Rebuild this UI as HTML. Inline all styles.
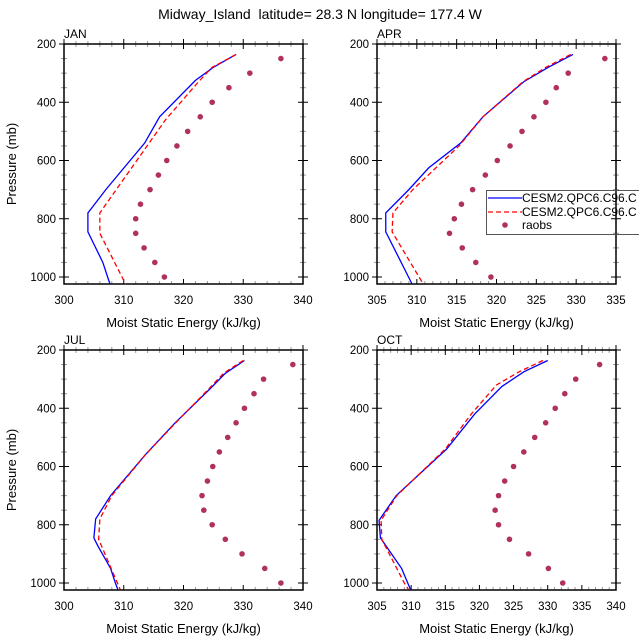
<!DOCTYPE html>
<html><head><meta charset="utf-8"><style>
html,body{margin:0;padding:0;background:#fff;}
svg{display:block;font-family:"Liberation Sans",sans-serif;}
</style></head><body>
<svg id="c" width="639" height="639" viewBox="0 0 639 639">
<text x="320" y="19" text-anchor="middle" font-size="14">Midway_Island&#160; latitude= 28.3 N longitude= 177.4 W</text>
</svg>
<script>
const levels=[250,300,350,400,450,500,550,600,650,700,750,800,850,900,950,1000];
const janObs=[336.3,331.1,327.6,324.8,322.8,320.7,318.9,317.2,315.8,314.4,312.8,312.0,312.0,313.4,315.2,316.8];
const aprObs=[333.6,329.0,327.5,326.2,324.7,323.2,321.7,320.1,318.6,317.0,315.6,314.7,314.1,315.7,317.4,319.3];
const julObs=[338.3,333.4,331.8,330.2,328.8,327.4,326.0,324.9,324.0,323.1,323.4,324.8,327.0,329.8,333.6,336.3];
const octObs=[337.6,334.1,332.5,331.1,329.7,328.1,326.5,325.0,323.7,322.8,322.3,322.8,324.4,327.2,330.1,332.2];
const janBlueP=[236,280,325,450,540,700,780,845,950,1000,1024];
const janBlue=[328.8,325,322,316,313.5,307,304,304,306.5,307.3,307.7];
const janRedP=[236,280,330,460,780,850,1024];
const janRed=[328.8,324.8,322.5,317,306,306,310.3];
const aprBlueP=[236,280,330,450,540,625,700,780,845,1024];
const aprBlue=[329.6,326.5,323.4,318.3,315.5,311.5,309,306.1,306.1,309.4];
const aprRedP=[236,280,330,450,550,700,780,845,1024];
const aprRed=[329.3,326.2,323.3,318.3,315.3,309.5,307,306.9,310.8];
const julBlueP=[236,280,330,450,560,700,780,845,870,950,1000,1022];
const julBlue=[330.2,327,324.6,318.6,313.6,307.8,305.3,305,305.6,307.8,308.6,309];
const julRedP=[236,280,330,450,560,700,780,850,1022];
const julRed=[330,326.7,324.4,318.7,313.6,308,306,305.8,309.4];
const octBlueP=[236,275,325,420,540,700,785,845,950,1022];
const octBlue=[330,326.5,323.3,319.3,315.2,307.8,305.3,305.5,308.6,309.9];
const octRedP=[236,275,320,420,540,700,785,850,1000,1022];
const octRed=[329.3,325.8,322.5,318.8,315,307.9,305.6,305.7,309,309.6];
const yTicks=[200,400,600,800,1000];

const svg=document.getElementById('c');
const NS='http://www.w3.org/2000/svg';
function mk(t,a,p){const e=document.createElementNS(NS,t);for(const k in a)e.setAttribute(k,a[k]);(p||svg).appendChild(e);return e;}

const panels=[
 {name:'jan',label:'JAN',L:64,T:44,xmin:300,xmax:340,maj:10,min:2,obs:janObs,bp:janBlueP,b:janBlue,rp:janRedP,r:janRed,ylab:true},
 {name:'apr',label:'APR',L:377,T:44,xmin:305,xmax:335,maj:5,min:1,obs:aprObs,bp:aprBlueP,b:aprBlue,rp:aprRedP,r:aprRed,ylab:false},
 {name:'jul',label:'JUL',L:64,T:350,xmin:300,xmax:340,maj:10,min:2,obs:julObs,bp:julBlueP,b:julBlue,rp:julRedP,r:julRed,ylab:true},
 {name:'oct',label:'OCT',L:377,T:350,xmin:305,xmax:340,maj:5,min:1,obs:octObs,bp:octBlueP,b:octBlue,rp:octRedP,r:octRed,ylab:false}
];
const W=239,H=240;
panels.forEach(p=>{
 const g=mk('g',{});
 
 
 const x=v=>p.L+(v-p.xmin)/(p.xmax-p.xmin)*W;
 const y=v=>p.T+(v-200)/800*233;
 const B=p.T+H;
 for(let v=p.xmin;v<=p.xmax+1e-6;v+=p.min){const X=x(v);const maj=Math.abs(v%p.maj)<1e-6;
   const len=maj?5:3;
   mk('line',{x1:X,x2:X,y1:B-len,y2:B,stroke:maj?'#000':'#999','stroke-width':1},g);
   mk('line',{x1:X,x2:X,y1:p.T-len,y2:p.T+len,stroke:maj?'#000':'#999','stroke-width':1},g);
   if(maj){const t=mk('text',{x:X,y:B+20,'text-anchor':'middle','font-size':11.5},g);t.textContent=v;
     }
 }
 for(let v=200;v<=1020;v+=50){const Y=y(v);const maj=v%200===0;const len=maj?5:3;const c=maj?'#000':'#999';
   mk('line',{x1:p.L-len,x2:p.L+len,y1:Y,y2:Y,stroke:c},g);
   mk('line',{x1:p.L+W-len,x2:p.L+W+len,y1:Y,y2:Y,stroke:c},g);}
 yTicks.forEach(v=>{const t=mk('text',{x:p.L-8,y:y(v)+4,'text-anchor':'end','font-size':11.5},g);t.textContent=v;
   });
 mk('rect',{x:p.L,y:p.T,width:W,height:H,fill:'none',stroke:'#000','stroke-width':1.5},g);
 const lb=mk('text',{x:p.L,y:p.T-6,'font-size':12},g);lb.textContent=p.label;
 
 const xl=mk('text',{x:p.L+W/2,y:B+43,'text-anchor':'middle','font-size':13},g);xl.textContent='Moist Static Energy (kJ/kg)';
 
 if(p.ylab){const yl=mk('text',{x:0,y:0,'text-anchor':'middle','font-size':13,transform:`translate(16,${p.T+H/2}) rotate(-90)`},g);yl.textContent='Pressure (mb)';
   }
 const blue=mk('polyline',{points:p.bp.map((v,i)=>x(p.b[i])+','+y(v)).join(' '),fill:'none',stroke:'#0000ff','stroke-width':1.3},g);
 
 const red=mk('polyline',{points:p.rp.map((v,i)=>x(p.r[i])+','+y(v)).join(' '),fill:'none',stroke:'#ff0000','stroke-width':1.3,'stroke-dasharray':'5,3'},g);
 
 levels.forEach((v,i)=>{const c=mk('circle',{cx:x(p.obs[i]),cy:y(v),r:2.8,fill:'#b03060'},g);
   });
});
const lg=mk('g',{});


mk('rect',{x:486.5,y:190.5,width:160,height:44,fill:'none',stroke:'#555'},lg);
mk('line',{x1:488,x2:522,y1:198,y2:198,stroke:'#0000ff','stroke-width':1.3},lg);
mk('line',{x1:488,x2:522,y1:212,y2:212,stroke:'#ff0000','stroke-width':1.3,'stroke-dasharray':'5,3'},lg);
mk('circle',{cx:505,cy:225,r:2.8,fill:'#b03060'},lg);
[['CESM2.QPC6.C96.C',202],['CESM2.QPC6.C96.C',216],['raobs',229]].forEach((d,i)=>{const t=mk('text',{x:522,y:d[1],'font-size':12},lg);t.textContent=d[0];
 });
</script>
</body></html>
